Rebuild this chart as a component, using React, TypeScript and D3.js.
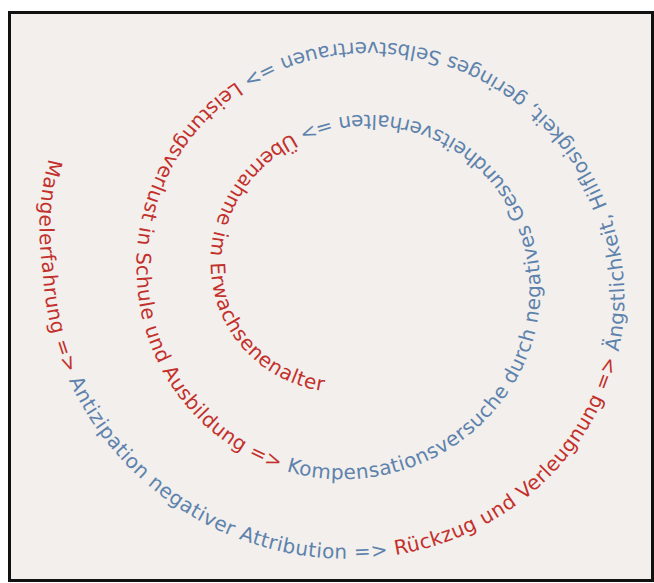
import React, { useEffect, useRef } from "react";
import * as d3 from "d3";

// text segments along the spiral, outside to inside
const segments = [
  "Mangelerfahrung =>",
  "Antizipation negativer Attribution =>",
  "Rückzug und Verleugnung =>",
  "Ängstlichkeit, Hilflosigkeit, geringes Selbstvertrauen =>",
  "Leistungsverlust in Schule und Ausbildung =>",
  "Kompensationsversuche durch negatives Gesundheitsverhalten =>",
  "Übernahme im Erwachsenenalter",
];
const segmentColors = ["#c3302c", "#5d82ac", "#c3302c", "#5d82ac", "#c3302c", "#5d82ac", "#c3302c"];

const width = 654;
const height = 583;

function App() {
  const ref = useRef<SVGSVGElement>(null);

  useEffect(() => {
    const svg = d3.select(ref.current);
    svg.selectAll("*").remove();

    svg
      .append("rect")
      .attr("x", 9.5)
      .attr("y", 12.5)
      .attr("width", width - 11)
      .attr("height", height - 15)
      .attr("fill", "#f2efec")
      .attr("stroke", "#111")
      .attr("stroke-width", 3);

    // spiral running counter-clockwise inwards, a bit flattened
    const turn = 2 * Math.PI;
    const a0 = 2.76;
    const aEnd = 5 * Math.PI + 1.32;
    const a1 = aEnd + 1.5;
    const cx = 357;
    const rx = d3
      .scaleLinear()
      .domain([a0, Math.PI, 3 * Math.PI, 5 * Math.PI])
      .range([332, 314, 220, 146]);
    const ry = d3.scaleLinear().domain([Math.PI, Math.PI + turn]).range([300, 220]);
    const cy = d3.scaleLinear().domain([a0, 2 * Math.PI, 4 * Math.PI]).range([272, 284, 277]);

    const px = (a: number) => cx + rx(a) * Math.cos(a);
    const py = (a: number) => cy(a) - ry(a) * Math.sin(a);

    const angles = d3.range(a0, a1, 0.005);
    const line = d3.line<number>().x(px).y(py);

    svg
      .append("path")
      .attr("id", "spiral")
      .attr("d", line(angles))
      .attr("fill", "none");

    // arc length from start to the point where the last word ends
    const used = angles.filter(a => a <= aEnd);
    let target = 0;
    for (let i = 1; i < used.length; i++) {
      target += Math.hypot(px(used[i]) - px(used[i - 1]), py(used[i]) - py(used[i - 1]));
    }

    const label = svg
      .append("text")
      .attr("font-family", "DejaVu Sans")
      .attr("font-size", 20);

    const tp = label.append("textPath").attr("href", "#spiral");

    tp.selectAll("tspan")
      .data(segments)
      .join("tspan")
      .attr("fill", (d, i) => segmentColors[i])
      .text((d, i) => (i < segments.length - 1 ? d + " " : d));

    const node = label.node() as SVGTextElement;
    const natural = node.getComputedTextLength();
    const chars = segments.join(" ").length;
    const spacing = (target - natural) / chars;
    label.attr("letter-spacing", spacing.toFixed(3));
  }, []);

  return (
    <svg
      ref={ref}
      width={width}
      height={height}
      style={{ position: "absolute", left: 0, top: 0, background: "#fff" }}
    />
  );
}

export default App;
